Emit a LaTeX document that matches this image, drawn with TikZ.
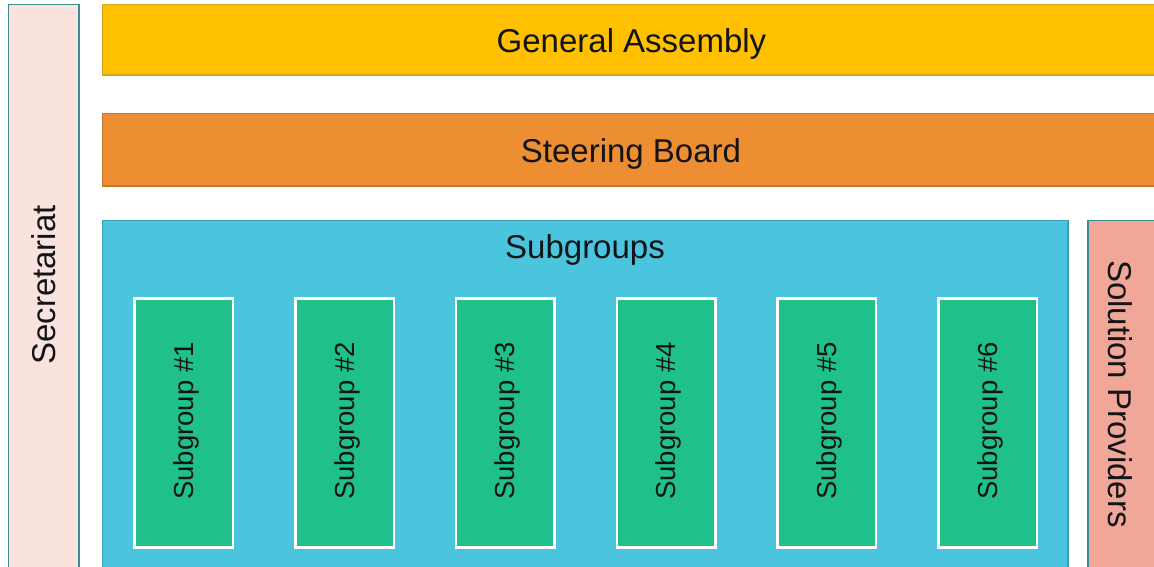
\documentclass[tikz,border=0pt]{standalone}
\usepackage{fontspec}
\setmainfont{Liberation Sans}
\definecolor{secfill}{HTML}{FAE3DD}
\definecolor{tealline}{HTML}{3E8A8E}
\definecolor{gafill}{HTML}{FFC000}
\definecolor{galine}{HTML}{D4A22A}
\definecolor{sbfill}{HTML}{EE8E33}
\definecolor{sbline}{HTML}{C5772F}
\definecolor{sgfill}{HTML}{4BC4DE}
\definecolor{sgline}{HTML}{3E9FB8}
\definecolor{spfill}{HTML}{F1A797}
\definecolor{boxfill}{HTML}{20C08A}
\definecolor{txt}{HTML}{111418}
\tikzset{
  panel/.style={draw, line width=1.5pt},
  sgbox/.style={draw=white, line width=2.5pt, fill=boxfill},
  label/.style={text=txt, inner sep=0pt, font=\fontsize{33}{36}\selectfont},
  sglabel/.style={text=txt, inner sep=0pt, rotate=90, font=\fontsize{27.5}{31}\selectfont},
}
\begin{document}
\begin{tikzpicture}[x=1pt,y=-1pt]
\useasboundingbox (0,0) rectangle (1154,566);
\fill[white] (0,0) rectangle (1154,566);
\begin{scope}
\clip (0,0) rectangle (1154,566);
% Secretariat
\path[panel, draw=tealline, fill=secfill] (8.5,4.5) rectangle (79,580);
\node[label, rotate=90] (sec) at (44,285) {Secretariat};
% General Assembly
\path[panel, draw=galine, fill=gafill] (102.5,4.5) rectangle (1161,75);
\node[label] (ga) at (631.5,44) {General Assembly};
% Steering Board
\path[panel, draw=sbline, fill=sbfill] (102.5,113.5) rectangle (1161,186);
\node[label] (sb) at (631,154) {Steering Board};
% Subgroups
\path[panel, draw=sgline, fill=sgfill] (102.5,220.5) rectangle (1068,580);
\node[label] (sg) at (585,250) {Subgroups};
% Solution Providers
\path[panel, draw=tealline, fill=spfill] (1088,220.5) rectangle (1170,580);
\node[label, rotate=-90] (sp) at (1120,394) {Solution Providers};
% Subgroup boxes
\foreach \i/\x in {1/134.5,2/295.5,3/456,4/617,5/777.5,6/938.5}{
  \path[sgbox] (\x,298.5) rectangle (\x+98.5,547.5);
  \node[sglabel] (s\i) at (\x+51.5,421) {Subgroup \#\i};
}
\end{scope}
\end{tikzpicture}
\end{document}
